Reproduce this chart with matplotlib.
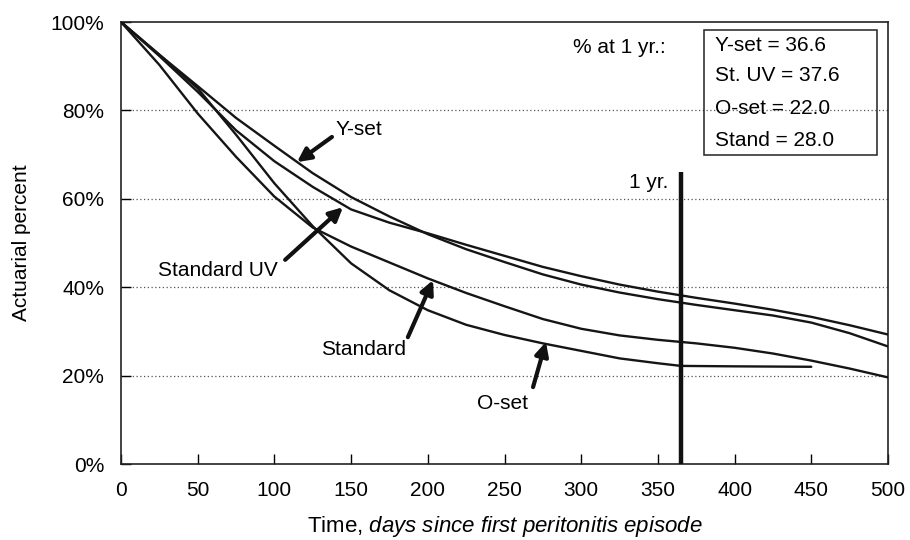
import matplotlib
matplotlib.use('Agg')
import matplotlib.pyplot as plt
from matplotlib.patches import Rectangle

plt.rcParams['font.family'] = ['Liberation Sans', 'DejaVu Sans']
plt.rcParams['mathtext.fontset'] = 'custom'
plt.rcParams['mathtext.rm'] = 'Liberation Sans'
plt.rcParams['mathtext.it'] = 'Liberation Sans:italic'

# ---- data ----
days = [0, 25, 50, 75, 100, 125, 150, 175, 200, 225, 250, 275, 300,
        325, 350, 375, 400, 425, 450, 475, 500]
y_set = [100, 92.6, 85.5, 78.3, 72.0, 65.8, 60.4, 56.0, 52.0, 48.6, 45.7,
         42.9, 40.6, 38.8, 37.3, 36.0, 34.8, 33.6, 32.0, 29.6, 26.6]
standard_uv = [100, 92.3, 84.2, 75.5, 68.5, 62.7, 57.6, 54.6, 52.2, 49.6, 47.1,
               44.6, 42.5, 40.6, 39.0, 37.6, 36.3, 34.9, 33.3, 31.4, 29.3]
standard = [100, 90.3, 79.3, 69.5, 60.5, 53.5, 49.2, 45.6, 42.0, 38.7, 35.7,
            32.8, 30.6, 29.1, 28.1, 27.3, 26.3, 25.0, 23.4, 21.6, 19.6]
o_days = [0, 25, 50, 75, 100, 125, 150, 175, 200, 225, 250, 275, 300,
          325, 350, 365, 400, 450]
o_set = [100, 92.6, 85.0, 74.5, 63.5, 53.8, 45.4, 39.3, 34.8, 31.5, 29.2,
         27.3, 25.6, 23.9, 22.8, 22.2, 22.1, 22.0]

one_year = 365
one_year_line_top = 66
box_names = ['Y-set', 'St. UV', 'O-set', 'Stand']
box_values = [36.6, 37.6, 22.0, 28.0]

x_ticks = list(range(0, 501, 50))
y_ticks = [0, 20, 40, 60, 80, 100]
y_tick_labels = [f'{v}%' for v in y_ticks]

# ---- figure ----
fig = plt.figure(figsize=(9.1, 5.4), dpi=100)
ax = fig.add_axes([0.133, 0.1407, 0.8428, 0.8185])

for yv in [20, 40, 60, 80]:
    ax.axhline(yv, ls=(0, (1, 2)), color='#555555', lw=0.9, zorder=1)

line_kw = dict(color='#151515', lw=1.7, zorder=3, solid_capstyle='round',
               solid_joinstyle='round')
ax.plot(days, y_set, **line_kw)
ax.plot(days, standard_uv, **line_kw)
ax.plot(days, standard, **line_kw)
ax.plot(o_days, o_set, **line_kw)

ax.plot([one_year, one_year], [0, one_year_line_top], color='#111111', lw=3.2, zorder=4,
        solid_capstyle='butt')
ax.text(357, 63.6, '1 yr.', fontsize=15, ha='right', va='center')

ax.set_xlim(0, 500)
ax.set_ylim(0, 100)
ax.set_xticks(x_ticks)
ax.set_yticks(y_ticks)
ax.set_yticklabels(y_tick_labels)
ax.tick_params(direction='in', length=7, width=1, labelsize=15, pad=12)
for sp in ax.spines.values():
    sp.set_linewidth(1.2)
    sp.set_color('#222222')

ax.set_xlabel(r'Time, $\it{days\ since\ first\ peritonitis\ episode}$', fontsize=16, labelpad=10)
ax.set_ylabel('Actuarial percent', fontsize=15, labelpad=14)

# arrows + labels
arrow_kw = dict(arrowstyle='-|>,head_length=0.8,head_width=0.4', lw=3, color='#111111',
                shrinkA=0, shrinkB=0)
ax.annotate('', xy=(114.7, 68.3), xytext=(137.5, 74.0), arrowprops=arrow_kw)
ax.text(155, 75.7, 'Y-set', fontsize=15, ha='center', va='center')

ax.annotate('', xy=(144.7, 58.1), xytext=(107, 46.2), arrowprops=arrow_kw)
ax.text(63.2, 43.7, 'Standard UV', fontsize=15, ha='center', va='center')

ax.annotate('', xy=(203.4, 41.6), xytext=(187, 28.7), arrowprops=arrow_kw)
ax.text(157.8, 25.8, 'Standard', fontsize=15, ha='center', va='center')

ax.annotate('', xy=(277, 27.6), xytext=(268.6, 17.4), arrowprops=arrow_kw)
ax.text(248.4, 13.8, 'O-set', fontsize=15, ha='center', va='center')

# 1-year box
ax.text(324.6, 94.3, '% at 1 yr.:', fontsize=15, ha='center', va='center')
ax.add_patch(Rectangle((380, 69.9), 112.8, 28.3, fill=False, lw=1.1,
                       edgecolor='#222222', zorder=5))
ys = [94.8, 88.0, 80.5, 73.3]
for yy, n, v in zip(ys, box_names, box_values):
    ax.text(387.2, yy, f'{n} = {v:.1f}', fontsize=15, ha='left', va='center')

fig.savefig('out.png', dpi=100)
